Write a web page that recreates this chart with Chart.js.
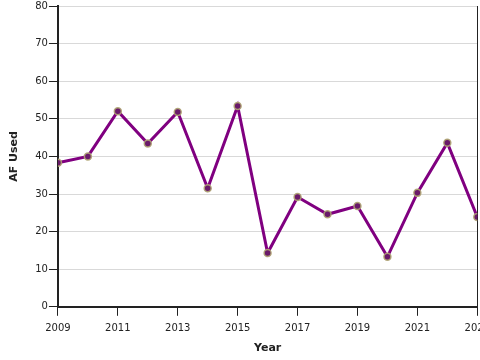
<!DOCTYPE html>
<html>
<head>
<meta charset="utf-8">
<script src="https://cdn.jsdelivr.net/npm/chart.js@4/dist/chart.umd.min.js"></script>
<style>
html,body{margin:0;padding:0;background:#fff;overflow:hidden;}
#wrap{width:497px;height:361px;margin-top:-1px;}
</style>
</head>
<body>
<div id="wrap"><canvas id="chart"></canvas></div>
<script>
const years=[2009,2010,2011,2012,2013,2014,2015,2016,2017,2018,2019,2020,2021,2022,2023];
const afUsed=[38.3,40,52,43.4,51.8,31.5,53.4,14.3,29.2,24.6,26.8,13.3,30.3,43.6,23.9];
const yTicks=[0,10,20,30,40,50,60,70,80];

const axisColor='#222';
const fontFamily="'DejaVu Sans', sans-serif";

new Chart(document.getElementById('chart'),{
 type:'line',
 data:{
  datasets:[{
   label:'AF Used',
   data:years.map((y,i)=>({x:y,y:afUsed[i]})),
   borderColor:'#800080',
   borderWidth:3,
   pointRadius:3.5,
   pointBackgroundColor:'#6a1a6a',
   pointBorderColor:'rgba(175,165,115,0.9)',
   pointBorderWidth:1.5,
   tension:0
  }]
 },
 options:{
  responsive:true,
  maintainAspectRatio:false,
  animation:false,
  layout:{padding:{top:0,left:4,bottom:1,right:0}},
  plugins:{legend:{display:false},tooltip:{enabled:false}},
  scales:{
   x:{
    type:'linear',
    min:2009,max:2023,
    afterBuildTicks:ax=>{ax.ticks=[2009,2011,2013,2015,2017,2019,2021,2023].map(v=>({value:v}));},
    ticks:{color:axisColor,font:{family:fontFamily,size:10},padding:7,maxRotation:0,callback:v=>String(v)},
    grid:{drawOnChartArea:false,drawTicks:true,tickLength:9,tickColor:axisColor,tickWidth:1},
    border:{color:axisColor,width:2},
    title:{display:true,text:'Year',color:axisColor,font:{family:fontFamily,size:11,weight:'bold'},padding:{top:0}}
   },
   y:{
    min:0,max:80,
    afterBuildTicks:ax=>{ax.ticks=yTicks.map(v=>({value:v}));},
    ticks:{color:axisColor,font:{family:fontFamily,size:10},padding:1},
    grid:{color:'#d9d9d9',lineWidth:1,tickLength:9,tickColor:axisColor},
    border:{color:axisColor,width:2},
    title:{display:true,text:'AF Used',color:axisColor,font:{family:fontFamily,size:11,weight:'bold'},padding:{bottom:13}}
   },
   y2:{
    position:'right',
    min:0,max:80,
    ticks:{display:false},
    grid:{display:false,drawTicks:false},
    border:{color:axisColor,width:1}
   }
  }
 }
});
</script>
</body>
</html>
